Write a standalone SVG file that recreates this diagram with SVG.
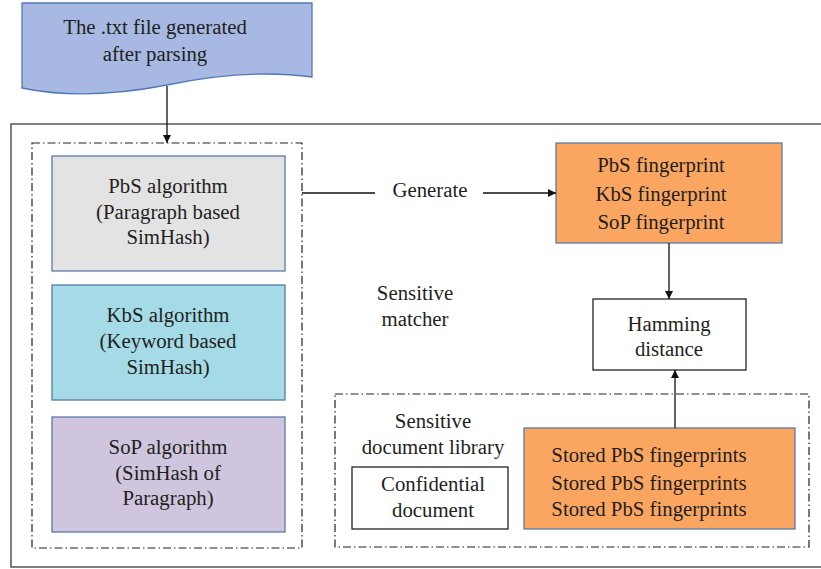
<svg xmlns="http://www.w3.org/2000/svg" width="821" height="569" viewBox="0 0 821 569">
  <defs>
    <marker id="arrow" viewBox="0 0 10 10" refX="10" refY="5" markerWidth="8" markerHeight="8" markerUnits="userSpaceOnUse" orient="auto">
      <path d="M0,0 L10,5 L0,10 Z" fill="#111"/>
    </marker>
    <style>
      text { font-family: "Liberation Serif", "DejaVu Serif", serif; font-size: 20.8px; fill: #231f20; text-anchor: middle; }
      .box { stroke: #5a7aa6; stroke-width: 1.3; }
      .plain { fill: #fff; stroke: #222; stroke-width: 1.3; }
      .group { fill: none; stroke: #222; stroke-width: 1.2; stroke-dasharray: 8 3 1.5 3; }
      .edge { fill: none; stroke: #111; stroke-width: 1.3; }
    </style>
  </defs>
  <rect width="821" height="569" fill="#fff"/>

  <!-- outer frame (runs off the right edge) -->
  <path d="M825,124 H11 V567 H825" fill="none" stroke="#555" stroke-width="1.5"/>

  <!-- dash-dot groupings -->
  <rect class="group" x="32" y="143" width="270" height="405"/>
  <rect class="group" x="335" y="394" width="474" height="153"/>

  <!-- input document -->
  <g id="txt-file">
    <path d="M22,3 H312 V77 C268,71 220,74 167,85 C110,96 60,96 22,88 Z" fill="#a7b9e3" stroke="#4f78b8" stroke-width="1.3"/>
    <text x="155" y="34">The .txt file generated</text>
    <text x="155" y="61">after parsing</text>
  </g>

  <g id="pbs-algorithm">
    <rect class="box" x="52" y="156" width="233" height="115" fill="#e3e3e3"/>
    <text x="168" y="193">PbS algorithm</text>
    <text x="168" y="219">(Paragraph based</text>
    <text x="168" y="244">SimHash)</text>
  </g>

  <g id="kbs-algorithm">
    <rect class="box" x="52" y="285" width="233" height="115" fill="#a5dbe6"/>
    <text x="168" y="322">KbS algorithm</text>
    <text x="168" y="348">(Keyword based</text>
    <text x="168" y="374">SimHash)</text>
  </g>

  <g id="sop-algorithm">
    <rect class="box" x="52" y="417" width="233" height="115" fill="#cfc5de"/>
    <text x="168" y="454">SoP algorithm</text>
    <text x="168" y="480">(SimHash of</text>
    <text x="168" y="505">Paragraph)</text>
  </g>

  <g id="fingerprints">
    <rect class="box" x="556" y="143" width="226" height="100" fill="#fba660"/>
    <text x="661" y="172">PbS fingerprint</text>
    <text x="661" y="201">KbS fingerprint</text>
    <text x="661" y="229">SoP fingerprint</text>
  </g>

  <g id="hamming-distance">
    <rect class="plain" x="593" y="299" width="153" height="71"/>
    <text x="669" y="331">Hamming</text>
    <text x="669" y="356">distance</text>
  </g>

  <g id="sensitive-matcher">
    <text x="415" y="300">Sensitive</text>
    <text x="415" y="326">matcher</text>
  </g>

  <g id="document-library">
    <text x="433" y="428">Sensitive</text>
    <text x="433" y="454">document library</text>
  </g>

  <g id="confidential-document">
    <rect class="plain" x="352" y="467" width="156" height="62"/>
    <text x="433" y="491">Confidential</text>
    <text x="433" y="517">document</text>
  </g>

  <g id="stored-fingerprints">
    <rect class="box" x="524" y="428" width="271" height="101" fill="#fba660"/>
    <text x="649" y="462">Stored PbS fingerprints</text>
    <text x="649" y="490">Stored PbS fingerprints</text>
    <text x="649" y="516">Stored PbS fingerprints</text>
  </g>

  <g id="connectors">
    <line class="edge" x1="167" y1="86" x2="167" y2="143" marker-end="url(#arrow)"/>
    <line class="edge" x1="302" y1="193" x2="375" y2="193"/>
    <text x="430" y="197">Generate</text>
    <line class="edge" x1="483" y1="193" x2="556" y2="193" marker-end="url(#arrow)"/>
    <line class="edge" x1="669" y1="243" x2="669" y2="299" marker-end="url(#arrow)"/>
    <line class="edge" x1="675" y1="428" x2="675" y2="370" marker-end="url(#arrow)"/>
  </g>
</svg>
